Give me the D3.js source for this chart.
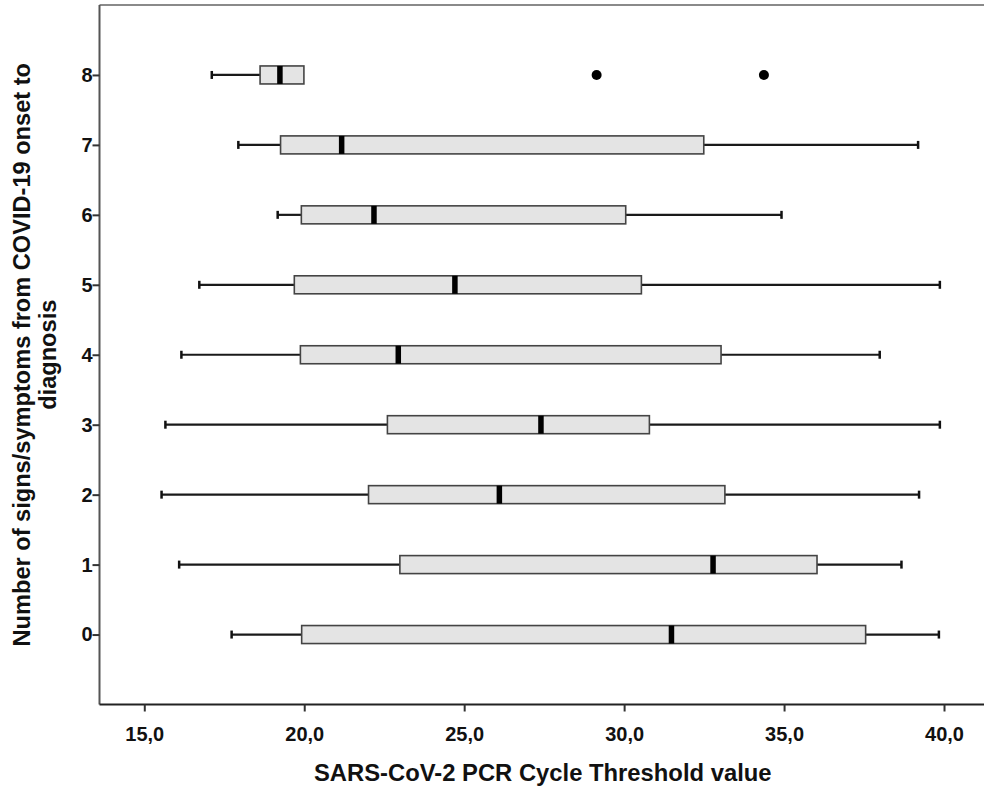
<!DOCTYPE html>
<html>
<head>
<meta charset="utf-8">
<script src="https://cdn.jsdelivr.net/npm/d3@7"></script>
<style>
  html, body { margin: 0; padding: 0; background: #fff; }
  svg { display: block; font-family: "Liberation Sans", Arial, sans-serif; font-weight: bold; }
</style>
</head>
<body>
<svg id="chart" width="984" height="793"></svg>
<script>
// ---------- data ----------
const categories  = [0, 1, 2, 3, 4, 5, 6, 7, 8];
const whiskerLow  = [17.73, 16.09, 15.54, 15.66, 16.16, 16.72, 19.17, 17.94, 17.11];
const q1          = [19.92, 22.99, 22.01, 22.60, 19.88, 19.69, 19.91, 19.26, 18.62];
const median      = [31.48, 32.78, 26.10, 27.40, 22.94, 24.71, 22.18, 21.17, 19.24];
const q3          = [37.55, 36.03, 33.15, 30.79, 33.03, 30.54, 30.05, 32.49, 19.99];
const whiskerHigh = [39.84, 38.67, 39.22, 39.87, 37.99, 39.87, 34.92, 39.19, 19.99];
const outlierCat  = [8, 8];
const outlierVal  = [29.14, 34.37];
const xTicks = [15, 20, 25, 30, 35, 40];
const yTicks = [0, 1, 2, 3, 4, 5, 6, 7, 8];

const svg = d3.select("#chart");

// ---------- layout ----------
const plot = { left: 99.5, top: 5, right: 990, bottom: 704.5 };
const x = d3.scaleLinear().domain([13.6, 41.25]).range([plot.left, 984]);
const y = d3.scaleLinear().domain([-1, 9]).range([plot.bottom, plot.top]);
const boxH = 18;
const fmt = d => d3.format(".1f")(d).replace(".", ",");

const rows = categories.map((c, i) => ({
  cat: c, lo: whiskerLow[i], q1: q1[i], med: median[i], q3: q3[i], hi: whiskerHigh[i]
}));

// ---------- frame ----------
svg.append("line")
  .attr("x1", plot.left).attr("x2", plot.right)
  .attr("y1", plot.top).attr("y2", plot.top)
  .attr("stroke", "#8a8a8a").attr("stroke-width", 2);
svg.append("line")
  .attr("x1", plot.left).attr("x2", plot.left)
  .attr("y1", plot.top).attr("y2", plot.bottom)
  .attr("stroke", "#555").attr("stroke-width", 2);

// ---------- axes ----------
const xAxis = d3.axisBottom(x).tickValues(xTicks).tickSize(7).tickPadding(15).tickFormat(fmt);
const xG = svg.append("g").attr("transform", `translate(0,${plot.bottom})`).call(xAxis);
xG.select(".domain").attr("d", `M${plot.left},0H${plot.right}`).attr("stroke", "#222").attr("stroke-width", 2);
xG.selectAll(".tick line").attr("stroke", "#333").attr("stroke-width", 2);
xG.selectAll(".tick text").attr("font-size", 20).attr("font-family", "Liberation Sans, Arial, sans-serif")
  .attr("font-weight", "bold").attr("fill", "#111");

const yAxis = d3.axisLeft(y).tickValues(yTicks).tickSize(7).tickPadding(0).tickFormat(d3.format("d"));
const yG = svg.append("g").attr("transform", `translate(${plot.left},0)`).call(yAxis);
yG.select(".domain").remove();
yG.selectAll(".tick line").attr("stroke", "#333").attr("stroke-width", 2);
yG.selectAll(".tick text").attr("font-size", 20).attr("font-family", "Liberation Sans, Arial, sans-serif")
  .attr("font-weight", "bold").attr("fill", "#111");

// ---------- titles ----------
svg.append("text")
  .attr("x", (plot.left + 984) / 2 + 1).attr("y", 781)
  .attr("text-anchor", "middle").attr("font-size", 23.8).attr("fill", "#111")
  .text("SARS-CoV-2 PCR Cycle Threshold value");

const yTitle = svg.append("text")
  .attr("transform", `translate(0,${(plot.top + plot.bottom) / 2}) rotate(-90)`)
  .attr("text-anchor", "middle").attr("font-size", 23.6).attr("fill", "#111");
yTitle.append("tspan").attr("x", 0).attr("y", 30).text("Number of signs/symptoms from COVID-19 onset to");
yTitle.append("tspan").attr("x", 0).attr("y", 56).text("diagnosis");

// ---------- boxes ----------
const g = svg.append("g");
const box = g.selectAll("g.box").data(rows).join("g").attr("class", "box");

// whiskers
box.filter(d => d.lo < d.q1).append("line")
  .attr("x1", d => x(d.lo)).attr("x2", d => x(d.q1))
  .attr("y1", d => y(d.cat)).attr("y2", d => y(d.cat))
  .attr("stroke", "#1a1a1a").attr("stroke-width", 2.2);
box.filter(d => d.hi > d.q3).append("line")
  .attr("x1", d => x(d.q3)).attr("x2", d => x(d.hi))
  .attr("y1", d => y(d.cat)).attr("y2", d => y(d.cat))
  .attr("stroke", "#1a1a1a").attr("stroke-width", 2.2);
// caps
box.filter(d => d.lo < d.q1).append("line")
  .attr("x1", d => x(d.lo)).attr("x2", d => x(d.lo))
  .attr("y1", d => y(d.cat) - 4).attr("y2", d => y(d.cat) + 4)
  .attr("stroke", "#111").attr("stroke-width", 2.5);
box.filter(d => d.hi > d.q3).append("line")
  .attr("x1", d => x(d.hi)).attr("x2", d => x(d.hi))
  .attr("y1", d => y(d.cat) - 4).attr("y2", d => y(d.cat) + 4)
  .attr("stroke", "#111").attr("stroke-width", 2.5);

// box
box.append("rect")
  .attr("x", d => x(d.q1)).attr("width", d => x(d.q3) - x(d.q1))
  .attr("y", d => y(d.cat) - boxH / 2).attr("height", boxH)
  .attr("fill", "#e4e4e4").attr("stroke", "#444").attr("stroke-width", 1.6);

// median
box.append("rect")
  .attr("x", d => x(d.med) - 2.75).attr("width", 5.5)
  .attr("y", d => y(d.cat) - boxH / 2).attr("height", boxH)
  .attr("fill", "#000");

// outliers
g.selectAll("circle.out").data(outlierVal).join("circle").attr("class", "out")
  .attr("cx", d => x(d)).attr("cy", (d, i) => y(outlierCat[i]))
  .attr("r", 5).attr("fill", "#000");
</script>
</body>
</html>
